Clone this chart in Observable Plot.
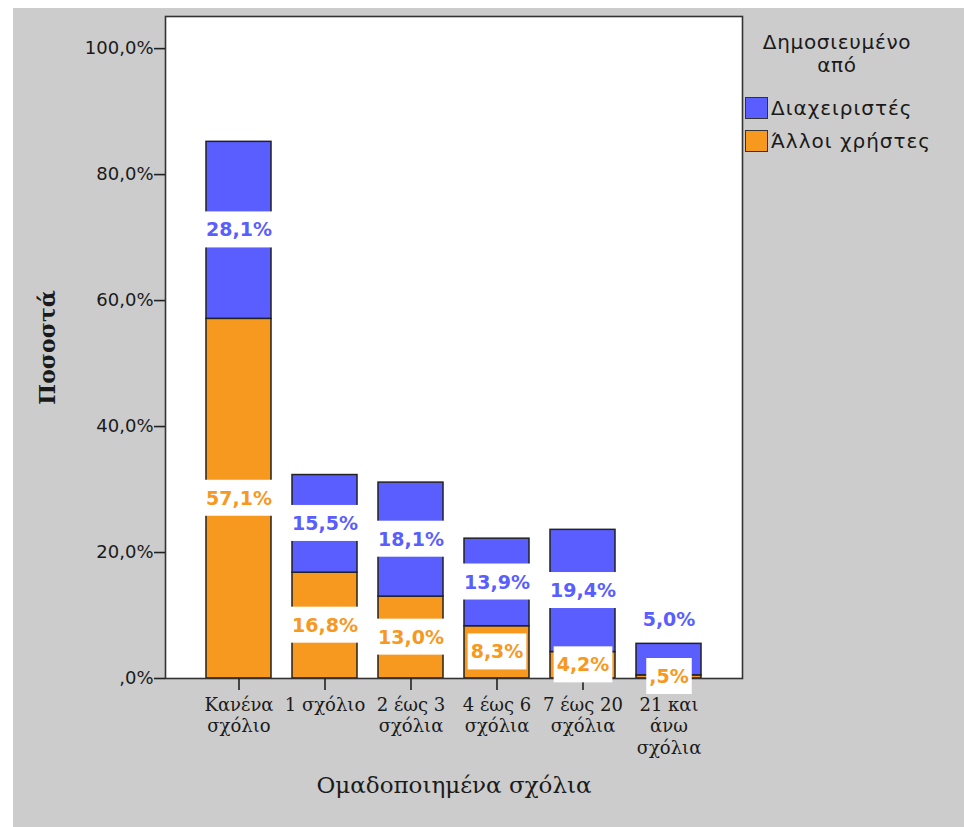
<!DOCTYPE html>
<html>
<head>
<meta charset="utf-8">
<script src="https://cdn.jsdelivr.net/npm/d3@7"></script>
<script src="https://cdn.jsdelivr.net/npm/@observablehq/plot@0.6"></script>
<style>
  html, body { margin: 0; padding: 0; background: #ffffff; }
  #wrap { position: relative; width: 964px; height: 827px; overflow: hidden; }
  #bg { position: absolute; left: 13px; top: 8px; right: 0; bottom: 0; background: #cccccc; }
  #chart { position: absolute; left: 0; top: 0; }
  #legend { position: absolute; left: 742px; top: 0; width: 222px; font-family: "DejaVu Sans", sans-serif; color: #1a1a1a; }
  #legend .title { position: absolute; left: 0; width: 190px; top: 31px; text-align: center; font-size: 20px; line-height: 23px; letter-spacing: 0.7px; }
  #legend .item { position: absolute; left: 3px; height: 22px; display: flex; align-items: center; font-size: 20px; letter-spacing: 1px; white-space: nowrap; }
  #legend .sw { width: 21px; height: 20px; border: 1px solid #333; margin-right: 3px; box-sizing: content-box; }
</style>
</head>
<body>
<div id="wrap">
  <div id="bg"></div>
  <div id="chart"></div>
  <div id="legend"></div>
</div>
<script>
// ---- data ----
const categories = ["Κανένα\nσχόλιο", "1 σχόλιο", "2 έως 3\nσχόλια", "4 έως 6\nσχόλια", "7 έως 20\nσχόλια", "21 και\nάνω\nσχόλια"];
const admins = [28.1, 15.5, 18.1, 13.9, 19.4, 5.0];      // Διαχειριστές (top)
const others = [57.1, 16.8, 13.0, 8.3, 4.2, 0.5];        // Άλλοι χρήστες (bottom)
const seriesNames = ["Διαχειριστές", "Άλλοι χρήστες"];
const seriesColors = ["#5a5eff", "#f7981f"];
const yTicks = [0, 20, 40, 60, 80, 100];
const legendTitle = "Δημοσιευμένο\nαπό";
const xTitle = "Ομαδοποιημένα σχόλια";
const yTitle = "Ποσοστά";

const fmt = v => (v < 1 ? v.toFixed(1).slice(1) : v.toFixed(1)).replace(".", ",") + "%";

// build stacked table (others at bottom, admins on top)
const rows = [];
categories.forEach((c, i) => {
  rows.push({cat: c, series: seriesNames[1], value: others[i], y1: 0, y2: others[i]});
  rows.push({cat: c, series: seriesNames[0], value: admins[i], y1: others[i], y2: others[i] + admins[i]});
});
// label placement: mid of segment; a small top segment gets its label above the bar
const labels = rows.map(r => {
  const above = r.series === seriesNames[0] && r.value < 6;
  return {...r, ly: above ? r.y2 : (r.y1 + r.y2) / 2, above};
});

const color = {domain: seriesNames, range: seriesColors};

const plot = Plot.plot({
  width: 964,
  height: 827,
  marginLeft: 165,
  marginRight: 222,
  marginTop: 16,
  marginBottom: 149,
  style: {background: "transparent", overflow: "visible"},
  x: {domain: categories, range: [193, 713], paddingInner: 0.25, paddingOuter: 0.125, label: null},
  y: {domain: [0, 105.1], label: null},
  color,
  marks: [
    Plot.frame({fill: "white", stroke: null}),
    Plot.barY(rows, {x: "cat", y1: "y1", y2: "y2", fill: "series", stroke: "#222", strokeWidth: 1.5}),
    Plot.frame({stroke: "#333", strokeWidth: 1.6}),
    Plot.axisY({ticks: yTicks, tickFormat: fmt, tickSize: 11, tickPadding: 1, fontSize: 18,
      fontFamily: "DejaVu Sans", stroke: "#222", strokeWidth: 1.6, color: "#1a1a1a", label: null}),
    Plot.axisX({tickSize: 12, tickPadding: 5, fontSize: 18, lineHeight: 1.2,
      fontFamily: "DejaVu Serif", stroke: "#222", strokeWidth: 1.6, color: "#1a1a1a", label: null}),
    Plot.text([xTitle], {frameAnchor: "bottom", dy: 114, fontSize: 23, fontFamily: "DejaVu Serif", fill: "#1a1a1a"}),
    Plot.text([yTitle], {frameAnchor: "left", dx: -118, rotate: -90, textAnchor: "middle", fontSize: 22, fontWeight: "bold", fontFamily: "DejaVu Serif", fill: "#1a1a1a"}),
    Plot.text(labels.filter(d => !d.above), {x: "cat", y: "ly", text: d => fmt(d.value), fill: "series",
      fontSize: 19, fontWeight: "bold", fontFamily: "DejaVu Sans", className: "lbl"}),
    Plot.text(labels.filter(d => d.above), {x: "cat", y: "ly", dy: -24, text: d => fmt(d.value), fill: "series",
      fontSize: 19, fontWeight: "bold", fontFamily: "DejaVu Sans", className: "lbl"})
  ]
});
document.getElementById("chart").appendChild(plot);

// white boxes behind the value labels
plot.querySelectorAll("g.lbl").forEach(g => {
  g.querySelectorAll("text").forEach(t => {
    const b = t.getBBox();
    const cy = b.y + b.height / 2;
    const r = document.createElementNS("http://www.w3.org/2000/svg", "rect");
    r.setAttribute("x", b.x - 3);
    r.setAttribute("width", b.width + 6);
    r.setAttribute("y", cy - 18);
    r.setAttribute("height", 36);
    r.setAttribute("fill", "white");
    r.setAttribute("stroke", "none");
    if (t.getAttribute("transform")) r.setAttribute("transform", t.getAttribute("transform"));
    t.parentNode.insertBefore(r, t);
  });
});

// legend
const leg = document.getElementById("legend");
const title = document.createElement("div");
title.className = "title";
title.innerHTML = legendTitle.split("\n").join("<br>");
leg.appendChild(title);
seriesNames.forEach((s, i) => {
  const it = document.createElement("div");
  it.className = "item";
  it.style.top = (97 + i * 33) + "px";
  const sw = document.createElement("div");
  sw.className = "sw";
  sw.style.background = seriesColors[i];
  it.appendChild(sw);
  const tx = document.createElement("span");
  tx.textContent = s;
  it.appendChild(tx);
  leg.appendChild(it);
});
</script>
</body>
</html>
